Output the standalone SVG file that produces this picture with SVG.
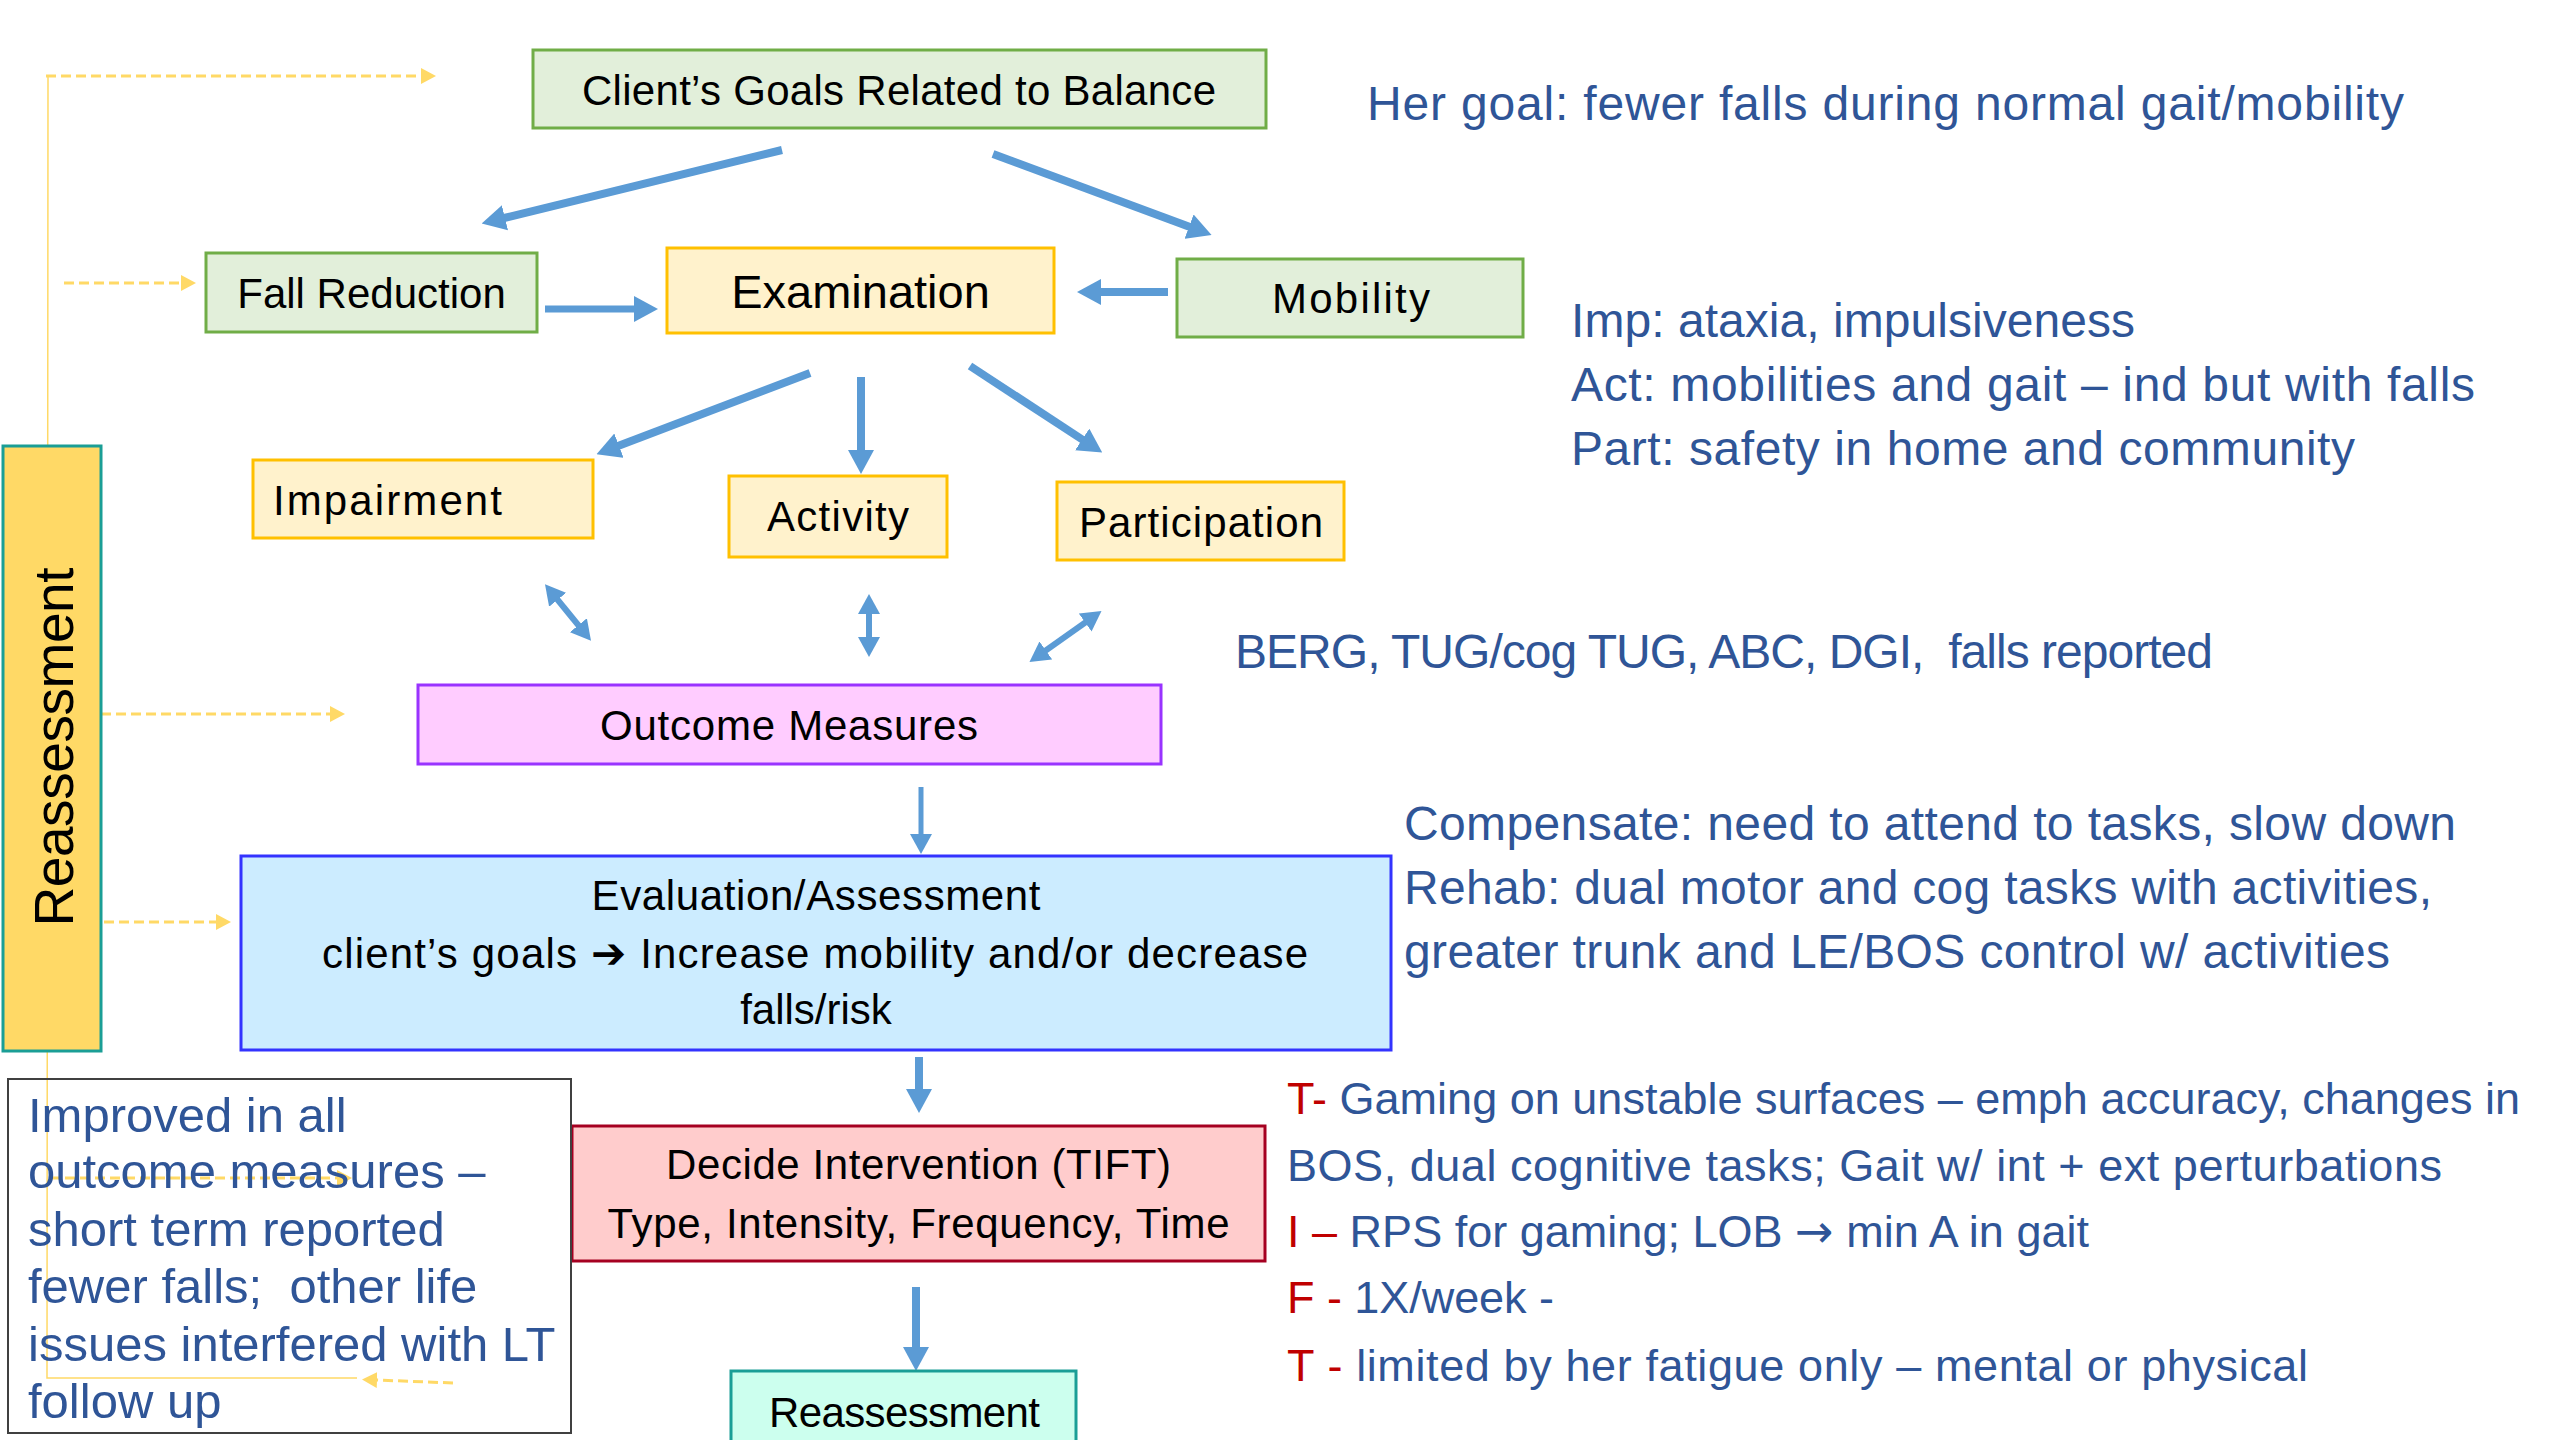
<svg xmlns="http://www.w3.org/2000/svg" width="2560" height="1440" viewBox="0 0 2560 1440">
<defs>
<style>
text{font-family:"Liberation Sans",Arial,"DejaVu Sans",sans-serif;}
.lbl{font-size:42px;fill:#000;text-anchor:middle;}
.note{font-size:48px;fill:#2F5597;white-space:pre;}
.tift{font-size:45px;fill:#2F5597;white-space:pre;}
.red{fill:#C00000;}
.sym{font-family:"DejaVu Sans",sans-serif;font-size:46px;}
.arr{stroke:#5B9BD5;stroke-width:8;fill:none;marker-end:url(#ah);}
.dbl{stroke:#5B9BD5;stroke-width:6;fill:none;marker-start:url(#ahs);marker-end:url(#ahs);}
.ydash{stroke:#FFD966;stroke-width:3;stroke-dasharray:10 5;fill:none;marker-end:url(#yh);}
.thin{stroke:#FFD966;stroke-width:1.5;fill:none;}
.green{fill:#E2EFDA;stroke:#70AD47;stroke-width:3;}
.orange{fill:#FFF2CC;stroke:#FFC000;stroke-width:3;}
</style>
<marker id="ah" markerUnits="userSpaceOnUse" viewBox="0 0 24 26" markerWidth="24" markerHeight="26" refX="1" refY="13" orient="auto"><path d="M0,0 L24,13 L0,26 z" fill="#5B9BD5"/></marker>
<marker id="ahs" markerUnits="userSpaceOnUse" viewBox="0 0 20 22" markerWidth="20" markerHeight="22" refX="1" refY="11" orient="auto-start-reverse"><path d="M0,0 L20,11 L0,22 z" fill="#5B9BD5"/></marker>
<marker id="yh" markerUnits="userSpaceOnUse" viewBox="0 0 15 16" markerWidth="15" markerHeight="16" refX="1" refY="8" orient="auto"><path d="M0,0 L15,8 L0,16 z" fill="#FFD966"/></marker>
</defs>
<rect width="2560" height="1440" fill="#FFFFFF"/>

<g id="connectors">
<path class="thin" d="M357,1378 L47,1378 L48,77"/>
<path class="ydash" d="M46,76 L422,76"/>
<path class="ydash" d="M64,283 L182,283"/>
<path class="ydash" d="M101,714 L331,714"/>
<path class="ydash" d="M104,922 L217,922"/>
<path class="ydash" d="M50,1178 L338,1178"/>
<path class="ydash" d="M453,1383 L376,1380"/>
<path class="arr" d="M782,150 L504,218"/>
<path class="arr" d="M993,154 L1190,227"/>
<path class="arr" d="M545,309 L635,309" style="stroke-width:7"/>
<path class="arr" d="M1168,292 L1100,292"/>
<path class="arr" d="M810,373 L618,446"/>
<path class="arr" d="M861,377 L861,451"/>
<path class="arr" d="M970,366 L1083,440"/>
<path class="dbl" d="M557,599 L579,626"/>
<path class="dbl" d="M869,613 L869,638"/>
<path class="dbl" d="M1086,622 L1045,651"/>
<path class="arr" d="M921,787 L921,835" style="stroke-width:5;marker-end:url(#ahs)"/>
<path class="arr" d="M919,1057 L919,1090"/>
<path class="arr" d="M916,1287 L916,1348"/>
</g>

<g id="node-goals">
<rect class="green" x="533" y="50" width="733" height="78"/>
<text class="lbl" x="899" y="105" textLength="634">Client’s Goals Related to Balance</text>
</g>
<g id="node-fall">
<rect class="green" x="206" y="253" width="331" height="79"/>
<text class="lbl" x="371.5" y="308">Fall Reduction</text>
</g>
<g id="node-exam">
<rect class="orange" x="667" y="248" width="387" height="85"/>
<text class="lbl" x="860.5" y="308" style="font-size:47px">Examination</text>
</g>
<g id="node-mobility">
<rect class="green" x="1177" y="259" width="346" height="78"/>
<text class="lbl" x="1351" y="313" textLength="158">Mobility</text>
</g>
<g id="node-impairment">
<rect class="orange" x="253" y="460" width="340" height="78"/>
<text class="lbl" x="273" y="515" style="text-anchor:start" textLength="229">Impairment</text>
</g>
<g id="node-activity">
<rect class="orange" x="729" y="476" width="218" height="81"/>
<text class="lbl" x="838" y="531" textLength="142">Activity</text>
</g>
<g id="node-participation">
<rect class="orange" x="1057" y="482" width="287" height="78"/>
<text class="lbl" x="1201" y="537" textLength="244">Participation</text>
</g>
<g id="node-outcome">
<rect x="418" y="685" width="743" height="79" fill="#FFCCFF" stroke="#9933FF" stroke-width="3"/>
<text class="lbl" x="789" y="740" textLength="378">Outcome Measures</text>
</g>
<g id="node-eval">
<rect x="241" y="856" width="1150" height="194" fill="#CCECFF" stroke="#3333FF" stroke-width="3"/>
<text class="lbl" x="816" y="910" textLength="449">Evaluation/Assessment</text>
<text class="lbl" x="815" y="968" textLength="986">client’s goals ➔ Increase mobility and/or decrease</text>
<text class="lbl" x="816" y="1024">falls/risk</text>
</g>
<g id="node-decide">
<rect x="572" y="1126" width="693" height="135" fill="#FFCCCC" stroke="#A50021" stroke-width="3"/>
<text class="lbl" x="918.5" y="1179" textLength="505">Decide Intervention (TIFT)</text>
<text class="lbl" x="918.5" y="1238" textLength="622">Type, Intensity, Frequency, Time</text>
</g>
<g id="node-reassess-bottom">
<rect x="731" y="1371" width="345" height="90" fill="#CCFFEE" stroke="#1A9E96" stroke-width="3"/>
<text class="lbl" x="904.5" y="1427" textLength="271">Reassessment</text>
</g>
<g id="node-reassess-bar">
<rect x="3" y="446" width="98" height="605" fill="#FFD966" stroke="#1A9E96" stroke-width="3"/>
<text transform="translate(73,747) rotate(-90)" style="font-size:55px;text-anchor:middle" fill="#000" textLength="359">Reassessment</text>
</g>
<g id="node-improved">
<rect x="8" y="1079" width="563" height="354" fill="none" stroke="#404040" stroke-width="2"/>
<text class="note" x="28" y="1132" style="font-size:49px">Improved in all</text>
<text class="note" x="28" y="1188" style="font-size:49px">outcome measures –</text>
<text class="note" x="28" y="1246" style="font-size:49px">short term reported</text>
<text class="note" x="28" y="1303" style="font-size:49px">fewer falls;  other life</text>
<text class="note" x="28" y="1361" style="font-size:49px">issues interfered with LT</text>
<text class="note" x="28" y="1418" style="font-size:49px">follow up</text>
</g>

<g id="notes">
<text class="note" x="1367" y="120" textLength="1037">Her goal: fewer falls during normal gait/mobility</text>
<text class="note" x="1571" y="337" textLength="564">Imp: ataxia, impulsiveness</text>
<text class="note" x="1571" y="401" textLength="904">Act: mobilities and gait – ind but with falls</text>
<text class="note" x="1571" y="465" textLength="784">Part: safety in home and community</text>
<text class="note" x="1235" y="668" textLength="978">BERG, TUG/cog TUG, ABC, DGI,  falls reported</text>
<text class="note" x="1404" y="840" textLength="1052">Compensate: need to attend to tasks, slow down</text>
<text class="note" x="1404" y="904" textLength="1028">Rehab: dual motor and cog tasks with activities,</text>
<text class="note" x="1404" y="968" textLength="986">greater trunk and LE/BOS control w/ activities</text>
<text class="tift" x="1287" y="1114" textLength="1233"><tspan class="red">T-</tspan> Gaming on unstable surfaces – emph accuracy, changes in</text>
<text class="tift" x="1287" y="1181" textLength="1155">BOS, dual cognitive tasks; Gait w/ int + ext perturbations</text>
<text class="tift" x="1287" y="1247" textLength="802"><tspan class="red">I –</tspan> RPS for gaming; LOB <tspan class="sym">→</tspan> min A in gait</text>
<text class="tift" x="1287" y="1313" textLength="267"><tspan class="red">F -</tspan> 1X/week -</text>
<text class="tift" x="1287" y="1381" textLength="1021"><tspan class="red">T -</tspan> limited by her fatigue only – mental or physical</text>
</g>
</svg>
